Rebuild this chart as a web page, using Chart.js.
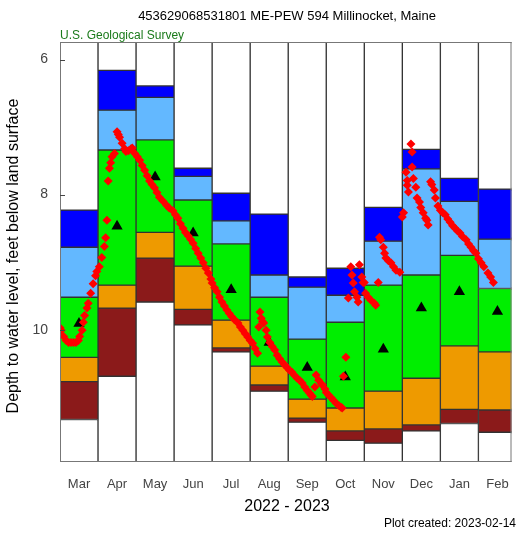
<!DOCTYPE html>
<html>
<head>
<meta charset="utf-8">
<script src="https://cdn.jsdelivr.net/npm/chart.js@4/dist/chart.umd.min.js"></script>
<style>
  html, body { margin: 0; padding: 0; background: #fff; }
  #wrap { width: 518px; height: 533px; }
</style>
</head>
<body>
<div id="wrap"><canvas id="gw" width="518" height="533"></canvas></div>
<script>
// months of the water year shown, Mar 2022 - Feb 2023
const months = ['Mar', 'Apr', 'May', 'Jun', 'Jul', 'Aug', 'Sep', 'Oct', 'Nov', 'Dec', 'Jan', 'Feb'];

// monthly percentile boundaries, depth in feet below land surface
const pMax = [8.23, 6.16, 6.39, 7.61, 7.98, 8.29, 9.22, 9.09, 8.19, 7.33, 7.76, 7.92];
const p90  = [8.78, 6.75, 6.56, 7.73, 8.39, 9.19, 9.37, 9.49, 8.69, 7.62, 8.10, 8.66];
const p75  = [9.52, 7.34, 7.19, 8.08, 8.73, 9.52, 10.14, 9.89, 9.34, 9.19, 8.90, 9.39];
const p25  = [10.41, 9.34, 8.56, 9.06, 9.86, 10.54, 11.03, 11.16, 10.91, 10.72, 10.24, 10.33];
const p10  = [10.77, 9.68, 8.94, 9.70, 10.27, 10.82, 11.31, 11.50, 11.47, 11.41, 11.18, 11.19];
const pMin = [11.33, 10.69, 9.59, 9.93, 10.33, 10.91, 11.37, 11.64, 11.68, 11.50, 11.39, 11.52];
const medians = [9.91, 8.47, 7.74, 8.57, 9.41, 10.19, 10.56, 10.70, 10.29, 9.68, 9.44, 9.73];

// observed water levels (date, depth)
const dailyLevels = [
  ['2022-03-01', 9.97], ['2022-03-02', 10.01], ['2022-03-04', 10.10], ['2022-03-06', 10.16],
  ['2022-03-08', 10.19], ['2022-03-10', 10.19], ['2022-03-12', 10.19], ['2022-03-14', 10.19],
  ['2022-03-16', 10.16], ['2022-03-17', 10.10], ['2022-03-19', 10.01], ['2022-03-20', 9.89],
  ['2022-03-21', 9.79], ['2022-03-23', 9.68], ['2022-03-24', 9.61], ['2022-03-26', 9.46],
  ['2022-03-28', 9.32], ['2022-03-30', 9.20], ['2022-03-31', 9.14],
  ['2022-04-02', 9.07], ['2022-04-04', 8.93], ['2022-04-06', 8.77], ['2022-04-07', 8.64],
  ['2022-04-08', 8.38], ['2022-04-09', 7.80], ['2022-04-10', 7.61], ['2022-04-11', 7.53],
  ['2022-04-12', 7.44], ['2022-04-14', 7.39], ['2022-04-16', 7.07], ['2022-04-17', 7.11],
  ['2022-04-18', 7.15], ['2022-04-20', 7.24], ['2022-04-22', 7.32], ['2022-04-23', 7.36],
  ['2022-04-25', 7.35], ['2022-04-27', 7.32], ['2022-04-28', 7.31], ['2022-04-30', 7.39],
  ['2022-05-02', 7.44], ['2022-05-04', 7.49], ['2022-05-06', 7.57], ['2022-05-08', 7.64],
  ['2022-05-10', 7.72], ['2022-05-12', 7.80], ['2022-05-14', 7.85], ['2022-05-16', 7.90],
  ['2022-05-18', 7.97], ['2022-05-20', 8.04], ['2022-05-23', 8.10], ['2022-05-26', 8.16],
  ['2022-05-28', 8.20], ['2022-05-31', 8.24],
  ['2022-06-02', 8.30], ['2022-06-04', 8.35], ['2022-06-06', 8.43], ['2022-06-08', 8.50],
  ['2022-06-10', 8.56], ['2022-06-12', 8.61], ['2022-06-14', 8.66], ['2022-06-16', 8.72],
  ['2022-06-18', 8.80], ['2022-06-20', 8.87], ['2022-06-22', 8.94], ['2022-06-24', 9.01],
  ['2022-06-26', 9.09], ['2022-06-28', 9.16], ['2022-06-30', 9.25],
  ['2022-07-01', 9.31], ['2022-07-03', 9.38], ['2022-07-05', 9.44], ['2022-07-07', 9.52],
  ['2022-07-09', 9.59], ['2022-07-11', 9.65], ['2022-07-13', 9.71], ['2022-07-15', 9.76],
  ['2022-07-17', 9.81], ['2022-07-19', 9.85], ['2022-07-22', 9.90], ['2022-07-24', 9.96],
  ['2022-07-26', 10.01], ['2022-07-28', 10.06], ['2022-07-30', 10.11],
  ['2022-08-01', 10.16], ['2022-08-03', 10.20], ['2022-08-05', 10.28], ['2022-08-07', 10.35],
  ['2022-08-08', 9.96], ['2022-08-09', 9.74], ['2022-08-10', 9.83], ['2022-08-11', 9.88],
  ['2022-08-12', 9.90], ['2022-08-14', 10.01], ['2022-08-15', 10.11], ['2022-08-17', 10.19],
  ['2022-08-19', 10.25], ['2022-08-21', 10.30], ['2022-08-23', 10.38], ['2022-08-25', 10.43],
  ['2022-08-27', 10.48], ['2022-08-29', 10.52], ['2022-08-31', 10.56],
  ['2022-09-02', 10.60], ['2022-09-04', 10.63], ['2022-09-06', 10.68], ['2022-09-08', 10.72],
  ['2022-09-10', 10.75], ['2022-09-12', 10.79], ['2022-09-14', 10.85], ['2022-09-16', 10.90],
  ['2022-09-18', 10.94], ['2022-09-19', 10.97], ['2022-09-20', 10.99], ['2022-09-22', 10.85],
  ['2022-09-23', 10.67], ['2022-09-25', 10.75], ['2022-09-27', 10.80], ['2022-09-28', 10.82],
  ['2022-09-30', 10.88],
  ['2022-10-01', 10.93], ['2022-10-03', 10.97], ['2022-10-05', 11.01], ['2022-10-07', 11.05],
  ['2022-10-09', 11.09], ['2022-10-11', 11.12], ['2022-10-13', 11.15], ['2022-10-14', 11.16],
  ['2022-10-15', 10.69], ['2022-10-17', 10.41], ['2022-10-19', 9.53], ['2022-10-21', 9.07],
  ['2022-10-22', 9.19], ['2022-10-23', 9.31], ['2022-10-24', 9.44], ['2022-10-26', 9.52],
  ['2022-10-27', 9.59], ['2022-10-28', 9.04], ['2022-10-30', 9.22], ['2022-10-31', 9.30],
  ['2022-11-01', 9.30], ['2022-11-02', 9.46], ['2022-11-04', 9.52], ['2022-11-06', 9.56],
  ['2022-11-09', 9.61], ['2022-11-10', 9.64], ['2022-11-12', 9.30], ['2022-11-13', 8.63],
  ['2022-11-14', 8.67], ['2022-11-16', 8.78], ['2022-11-17', 8.87], ['2022-11-18', 8.94],
  ['2022-11-20', 8.98], ['2022-11-22', 9.01], ['2022-11-24', 9.07], ['2022-11-26', 9.12],
  ['2022-11-29', 9.15],
  ['2022-12-01', 8.33], ['2022-12-02', 8.27], ['2022-12-04', 7.67], ['2022-12-05', 7.79],
  ['2022-12-05', 7.86], ['2022-12-06', 7.96], ['2022-12-08', 7.25], ['2022-12-09', 7.37],
  ['2022-12-09', 7.59], ['2022-12-10', 7.76], ['2022-12-12', 7.89], ['2022-12-13', 8.05],
  ['2022-12-15', 8.11], ['2022-12-16', 8.19], ['2022-12-18', 8.27], ['2022-12-20', 8.35],
  ['2022-12-21', 8.38], ['2022-12-22', 8.45], ['2022-12-24', 7.81], ['2022-12-25', 7.85],
  ['2022-12-27', 7.93], ['2022-12-28', 8.05], ['2022-12-30', 8.17],
  ['2023-01-01', 8.23], ['2023-01-03', 8.27], ['2023-01-05', 8.30], ['2023-01-07', 8.36],
  ['2023-01-09', 8.41], ['2023-01-11', 8.46], ['2023-01-13', 8.50], ['2023-01-15', 8.54],
  ['2023-01-17', 8.57], ['2023-01-19', 8.62], ['2023-01-22', 8.67], ['2023-01-24', 8.73],
  ['2023-01-26', 8.78], ['2023-01-28', 8.83], ['2023-01-30', 8.87],
  ['2023-02-01', 8.95], ['2023-02-03', 9.01], ['2023-02-05', 9.07], ['2023-02-08', 9.16],
  ['2023-02-10', 9.22], ['2023-02-12', 9.30]
];

const yTicks = [6, 8, 10];
const yTop = 5.74, yBottom = 11.96;
const xEnd = 11.87;

// position of a date in month units, 0 = start of March 2022
function monthPos(s) {
  const [yy, mm, dd] = s.split('-').map(Number);
  const idx = (yy - 2022) * 12 + mm - 3;
  const dim = new Date(yy, mm, 0).getDate();
  return idx + (dd - 1) / dim;
}

function band(lo, hi) {
  return months.map((m, i) => ({ x: i + 0.5, y: [lo[i], hi[i]] }));
}
const topEdge = months.map(() => yTop);
const bottomEdge = months.map(() => yBottom);

const boxStyle = {
  type: 'bar', grouped: false, borderColor: '#333', borderWidth: 1, borderSkipped: false,
  barPercentage: 1, categoryPercentage: 1, order: 3
};
const boxes = [
  [topEdge, pMax, '#ffffff'],
  [pMax, p90, '#0000ff'],
  [p90, p75, '#63b8ff'],
  [p75, p25, '#00ee00'],
  [p25, p10, '#ee9a00'],
  [p10, pMin, '#8b1a1a'],
  [pMin, bottomEdge, '#ffffff']
].map(([lo, hi, c]) => Object.assign({ data: band(lo, hi), backgroundColor: c }, boxStyle));

const decor = {
  id: 'decor',
  afterDraw(chart) {
    const { ctx, chartArea: a } = chart;
    const y = chart.scales.y;
    ctx.save();
    ctx.strokeStyle = '#777';
    ctx.lineWidth = 1;
    ctx.strokeRect(a.left + 0.5, a.top + 0.5, a.right - a.left - 1, a.bottom - a.top - 1);
    ctx.strokeStyle = '#444';
    yTicks.forEach(v => {
      const py = Math.round(y.getPixelForValue(v)) + 0.5;
      ctx.beginPath();
      ctx.moveTo(a.left, py);
      ctx.lineTo(a.left + 5, py);
      ctx.stroke();
    });

    ctx.textBaseline = 'middle';
    ctx.fillStyle = '#000';
    ctx.textAlign = 'center';
    ctx.font = '13px "Liberation Sans", Arial, sans-serif';
    ctx.fillText('453629068531801 ME-PEW 594 Millinocket, Maine', 287, 16);

    ctx.font = '16px "Liberation Sans", Arial, sans-serif';
    ctx.fillText('2022 - 2023', 287, 507);

    ctx.textAlign = 'left';
    ctx.fillStyle = '#1a7a1a';
    ctx.font = '12px "Liberation Sans", Arial, sans-serif';
    ctx.fillText('U.S. Geological Survey', 60, 36);

    ctx.textAlign = 'right';
    ctx.fillStyle = '#000';
    ctx.fillText('Plot created: 2023-02-14', 516, 524);

    ctx.translate(14, 256);
    ctx.rotate(-Math.PI / 2);
    ctx.textAlign = 'center';
    ctx.font = '16px "Liberation Sans", Arial, sans-serif';
    ctx.fillText('Depth to water level, feet below land surface', 0, 0);
    ctx.restore();
  }
};

new Chart(document.getElementById('gw'), {
  type: 'bar',
  data: {
    datasets: [
      {
        type: 'scatter',
        data: dailyLevels.map(([d, v]) => ({ x: monthPos(d), y: v })),
        pointStyle: 'rectRot',
        pointRadius: 4.5,
        pointBackgroundColor: '#ff0000',
        pointBorderWidth: 0,
        order: 1
      },
      {
        type: 'scatter',
        data: medians.map((v, i) => ({ x: i + 0.5, y: v })),
        pointStyle: 'triangle',
        pointRadius: 6.5,
        pointBackgroundColor: '#000',
        pointBorderWidth: 0,
        order: 2
      },
      ...boxes
    ]
  },
  options: {
    responsive: false,
    animation: false,
    layout: { padding: { top: 42, right: 5, left: 0, bottom: 0 } },
    plugins: { legend: { display: false }, tooltip: { enabled: false } },
    scales: {
      x: {
        type: 'linear',
        offset: false,
        min: 0,
        max: xEnd,
        grid: { display: false },
        border: { display: false },
        afterFit: s => { s.height = 71; },
        afterBuildTicks: s => { s.ticks = months.map((m, i) => ({ value: i + 0.5 })); },
        ticks: {
          autoSkip: false,
          maxRotation: 0,
          padding: 7,
          color: '#444',
          font: { family: '"Liberation Sans", Arial, sans-serif', size: 13 },
          callback: (v, i) => months[i]
        }
      },
      y: {
        type: 'linear',
        reverse: true,
        min: yTop,
        max: yBottom,
        grid: { display: false },
        border: { display: false },
        afterFit: s => { s.width = 60; },
        afterBuildTicks: s => { s.ticks = yTicks.map(v => ({ value: v })); },
        ticks: {
          padding: 4,
          color: '#444',
          font: { family: '"Liberation Sans", Arial, sans-serif', size: 14 }
        }
      }
    }
  },
  plugins: [decor]
});
</script>
</body>
</html>
